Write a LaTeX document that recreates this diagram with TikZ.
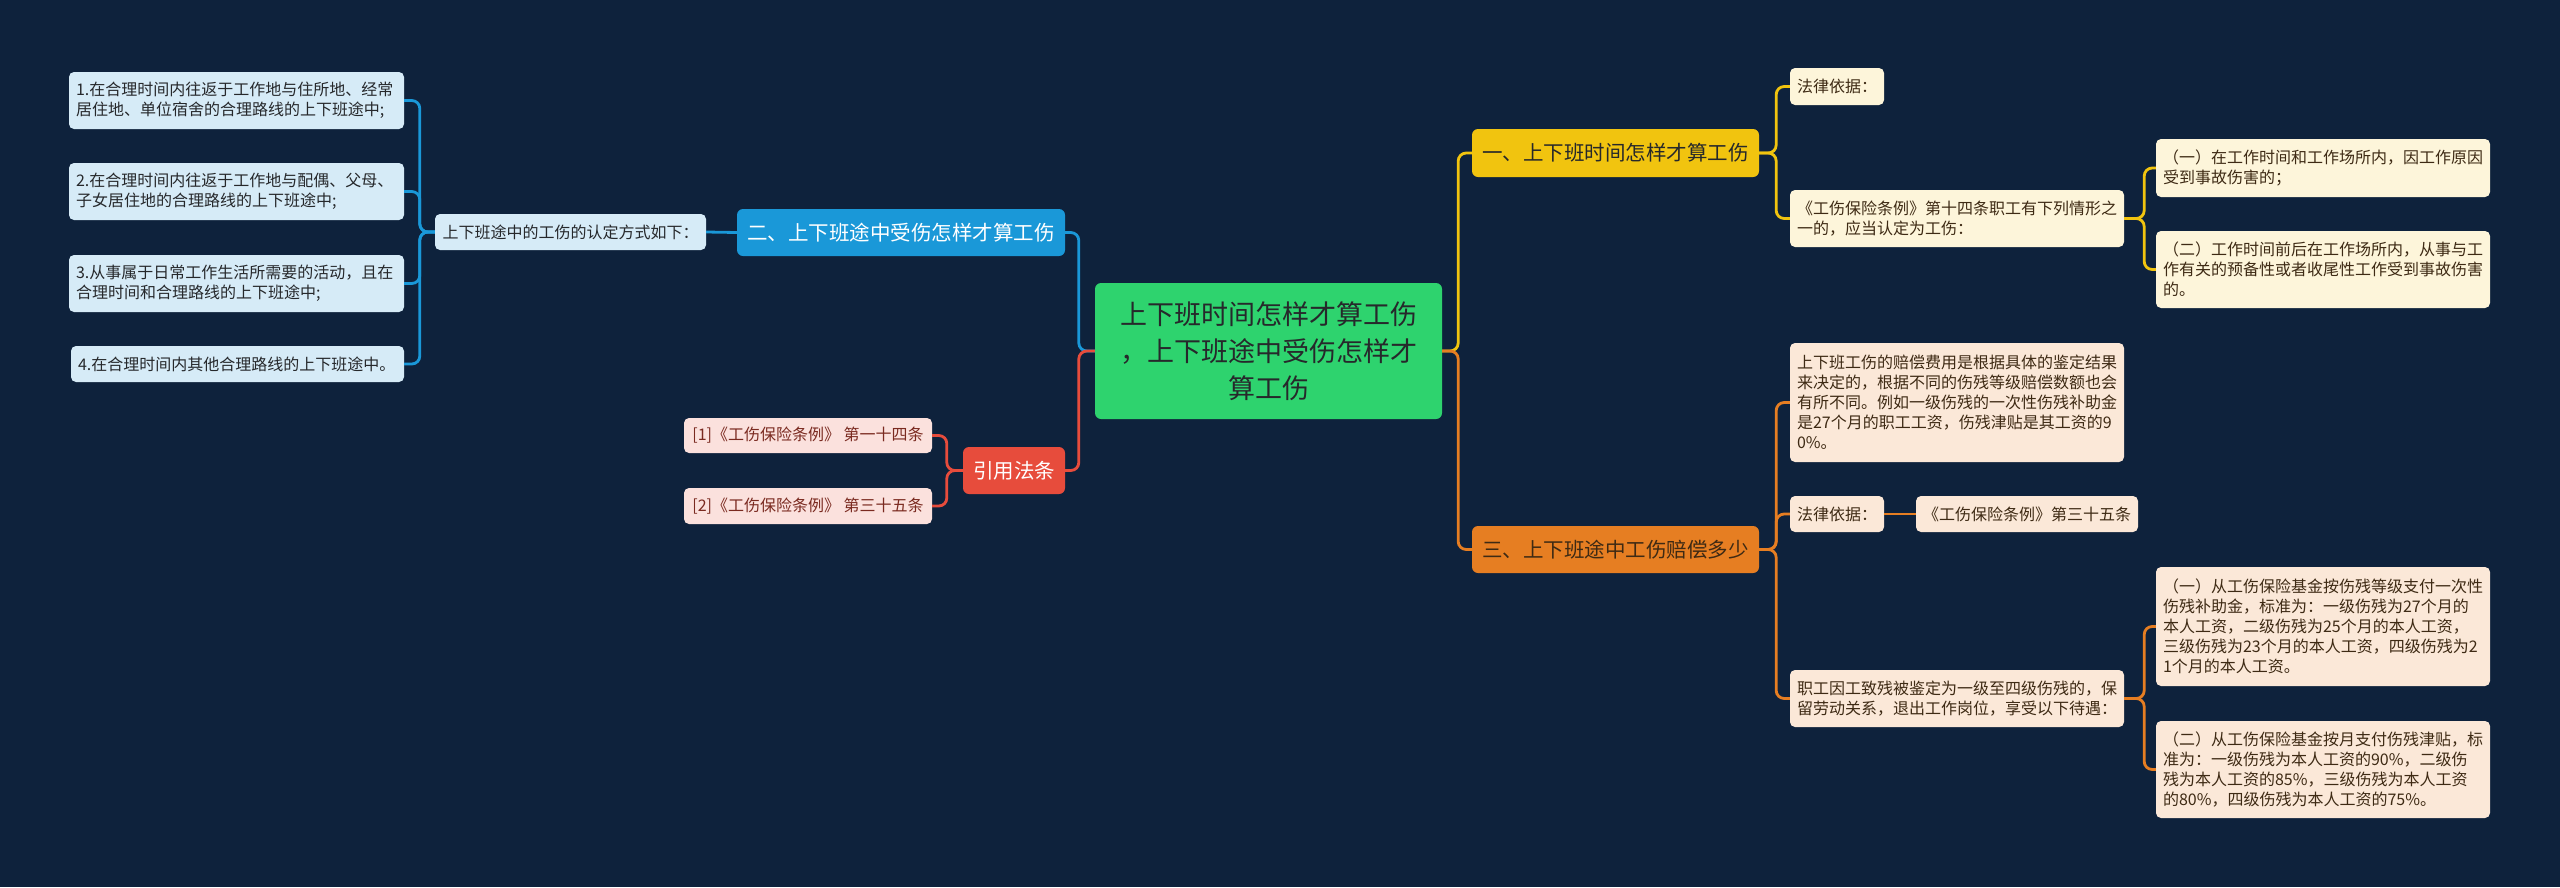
\documentclass[tikz,border=0pt]{standalone}
\usepackage{fontspec}
\setmainfont{Noto Sans CJK SC}
\definecolor{bgnavy}{HTML}{0E223C}
\definecolor{topgreen}{HTML}{2ED36E}
\definecolor{brblue}{HTML}{1A98D8}
\definecolor{brred}{HTML}{E74C3C}
\definecolor{bryellow}{HTML}{F1C40F}
\definecolor{brorange}{HTML}{E67E22}
\definecolor{lfblue}{HTML}{D6EBF7}
\definecolor{lfred}{HTML}{FBE1DD}
\definecolor{lfyellow}{HTML}{FDF5DA}
\definecolor{lforange}{HTML}{FBE8D8}
\definecolor{txtdark}{HTML}{26282B}
\definecolor{txtred}{HTML}{7A2A20}
\definecolor{txtbrown}{HTML}{3E2A14}
\tikzset{
  leaf/.style={rounded corners=5pt, inner xsep=7pt, inner ysep=0pt,
    font=\fontsize{16}{20}\selectfont},
  wide/.style={leaf, align=left, text width=#1},
  short/.style={leaf, align=center},
  branch/.style={rounded corners=6pt, inner sep=0pt, align=center,
    font=\fontsize{20.5}{26}\selectfont},
  conn/.style={line width=2.8pt, rounded corners=8pt}
}
\begin{document}
\begin{tikzpicture}[x=1pt,y=-1pt]
  \fill[bgnavy] (0,0) rectangle (2560,887);

  \node[branch, fill=topgreen, text=txtdark, minimum width=347, minimum height=136,
    text width=330, font=\fontsize{27}{37}\selectfont] (ctr) at (1268.5,351)
    {上下班时间怎样才算工伤\\，上下班途中受伤怎样才\\算工伤};

  \node[branch, fill=brblue, text=white, minimum width=328, minimum height=47] (two) at (901,232.5)
    {二、上下班途中受伤怎样才算工伤};
  \node[short, fill=lfblue, text=txtdark, minimum width=271, minimum height=36] (way) at (570.5,232)
    {上下班途中的工伤的认定方式如下：};
  \node[wide=321pt, fill=lfblue, text=txtdark, minimum height=57] (wa) at (236.5,100.5)
    {1.在合理时间内往返于工作地与住所地、经常\\居住地、单位宿舍的合理路线的上下班途中;};
  \node[wide=321pt, fill=lfblue, text=txtdark, minimum height=57] (wb) at (236.5,191.5)
    {2.在合理时间内往返于工作地与配偶、父母、\\子女居住地的合理路线的上下班途中;};
  \node[wide=321pt, fill=lfblue, text=txtdark, minimum height=57] (wc) at (236.5,283.5)
    {3.从事属于日常工作生活所需要的活动，且在\\合理时间和合理路线的上下班途中;};
  \node[wide=319pt, fill=lfblue, text=txtdark, minimum height=36] (wd) at (237.5,364)
    {4.在合理时间内其他合理路线的上下班途中。};

  \node[branch, fill=brred, text=white, minimum width=102, minimum height=47] (law) at (1014,470.5)
    {引用法条};
  \node[short, fill=lfred, text=txtred, minimum width=248, minimum height=35] (lawa) at (808,435.5)
    {[1]《工伤保险条例》 第一十四条};
  \node[short, fill=lfred, text=txtred, minimum width=248, minimum height=36] (lawb) at (808,506)
    {[2]《工伤保险条例》 第三十五条};

  \node[branch, fill=bryellow, text=txtdark, minimum width=287, minimum height=48] (one) at (1615.5,153)
    {一、上下班时间怎样才算工伤};
  \node[short, fill=lfyellow, text=txtbrown, minimum width=94, minimum height=37] (oa) at (1837,86.5)
    {法律依据：};
  \node[wide=320pt, fill=lfyellow, text=txtbrown, minimum height=57] (ob) at (1957,218.5)
    {《工伤保险条例》第十四条职工有下列情形之\\一的，应当认定为工伤：};
  \node[wide=320pt, fill=lfyellow, text=txtbrown, minimum height=58] (oba) at (2323,168)
    {（一）在工作时间和工作场所内，因工作原因\\受到事故伤害的；};
  \node[wide=320pt, fill=lfyellow, text=txtbrown, minimum height=77] (obb) at (2323,269.5)
    {（二）工作时间前后在工作场所内，从事与工\\作有关的预备性或者收尾性工作受到事故伤害\\的。};

  \node[branch, fill=brorange, text=txtbrown, minimum width=287, minimum height=47] (three) at (1615.5,549.5)
    {三、上下班途中工伤赔偿多少};
  \node[wide=320pt, fill=lforange, text=txtbrown, minimum height=119] (ta) at (1957,402.5)
    {上下班工伤的赔偿费用是根据具体的鉴定结果\\来决定的，根据不同的伤残等级赔偿数额也会\\有所不同。例如一级伤残的一次性伤残补助金\\是27个月的职工工资，伤残津贴是其工资的9\\0\%。};
  \node[short, fill=lforange, text=txtbrown, minimum width=94, minimum height=36] (tb) at (1837,514)
    {法律依据：};
  \node[short, fill=lforange, text=txtbrown, minimum width=222, minimum height=36] (tba) at (2027,514)
    {《工伤保险条例》第三十五条};
  \node[wide=320pt, fill=lforange, text=txtbrown, minimum height=57] (tc) at (1957,698.5)
    {职工因工致残被鉴定为一级至四级伤残的，保\\留劳动关系，退出工作岗位，享受以下待遇：};
  \node[wide=320pt, fill=lforange, text=txtbrown, minimum height=119] (tca) at (2323,626.5)
    {（一）从工伤保险基金按伤残等级支付一次性\\伤残补助金，标准为：一级伤残为27个月的\\本人工资，二级伤残为25个月的本人工资，\\三级伤残为23个月的本人工资，四级伤残为2\\1个月的本人工资。};
  \node[wide=320pt, fill=lforange, text=txtbrown, minimum height=97] (tcb) at (2323,769.5)
    {（二）从工伤保险基金按月支付伤残津贴，标\\准为：一级伤残为本人工资的90\%，二级伤\\残为本人工资的85\%，三级伤残为本人工资\\的80\%，四级伤残为本人工资的75\%。};

  % left side
  \draw[conn, brblue] (ctr.west) -- ++(-16,0) |- (two.east);
  \draw[conn, brblue] (two.west) -- (way.east);
  \foreach \w in {wa,wb,wc,wd}
    \draw[conn, brblue] (way.west) -- ++(-15,0) |- (\w.east);
  \draw[conn, brred] (ctr.west) -- ++(-16,0) |- (law.east);
  \foreach \w in {lawa,lawb}
    \draw[conn, brred] (law.west) -- ++(-16,0) |- (\w.east);

  % right side
  \draw[conn, bryellow] (ctr.east) -- ++(16,0) |- (one.west);
  \foreach \w in {oa,ob}
    \draw[conn, bryellow] (one.east) -- ++(17,0) |- (\w.west);
  \foreach \w in {oba,obb}
    \draw[conn, bryellow] (ob.east) -- ++(20,0) |- (\w.west);
  \draw[conn, brorange] (ctr.east) -- ++(16,0) |- (three.west);
  \foreach \w in {ta,tb,tc}
    \draw[conn, brorange] (three.east) -- ++(17,0) |- (\w.west);
  \draw[conn, brorange] (tb.east) -- (tba.west);
  \foreach \w in {tca,tcb}
    \draw[conn, brorange] (tc.east) -- ++(20,0) |- (\w.west);
\end{tikzpicture}
\end{document}
